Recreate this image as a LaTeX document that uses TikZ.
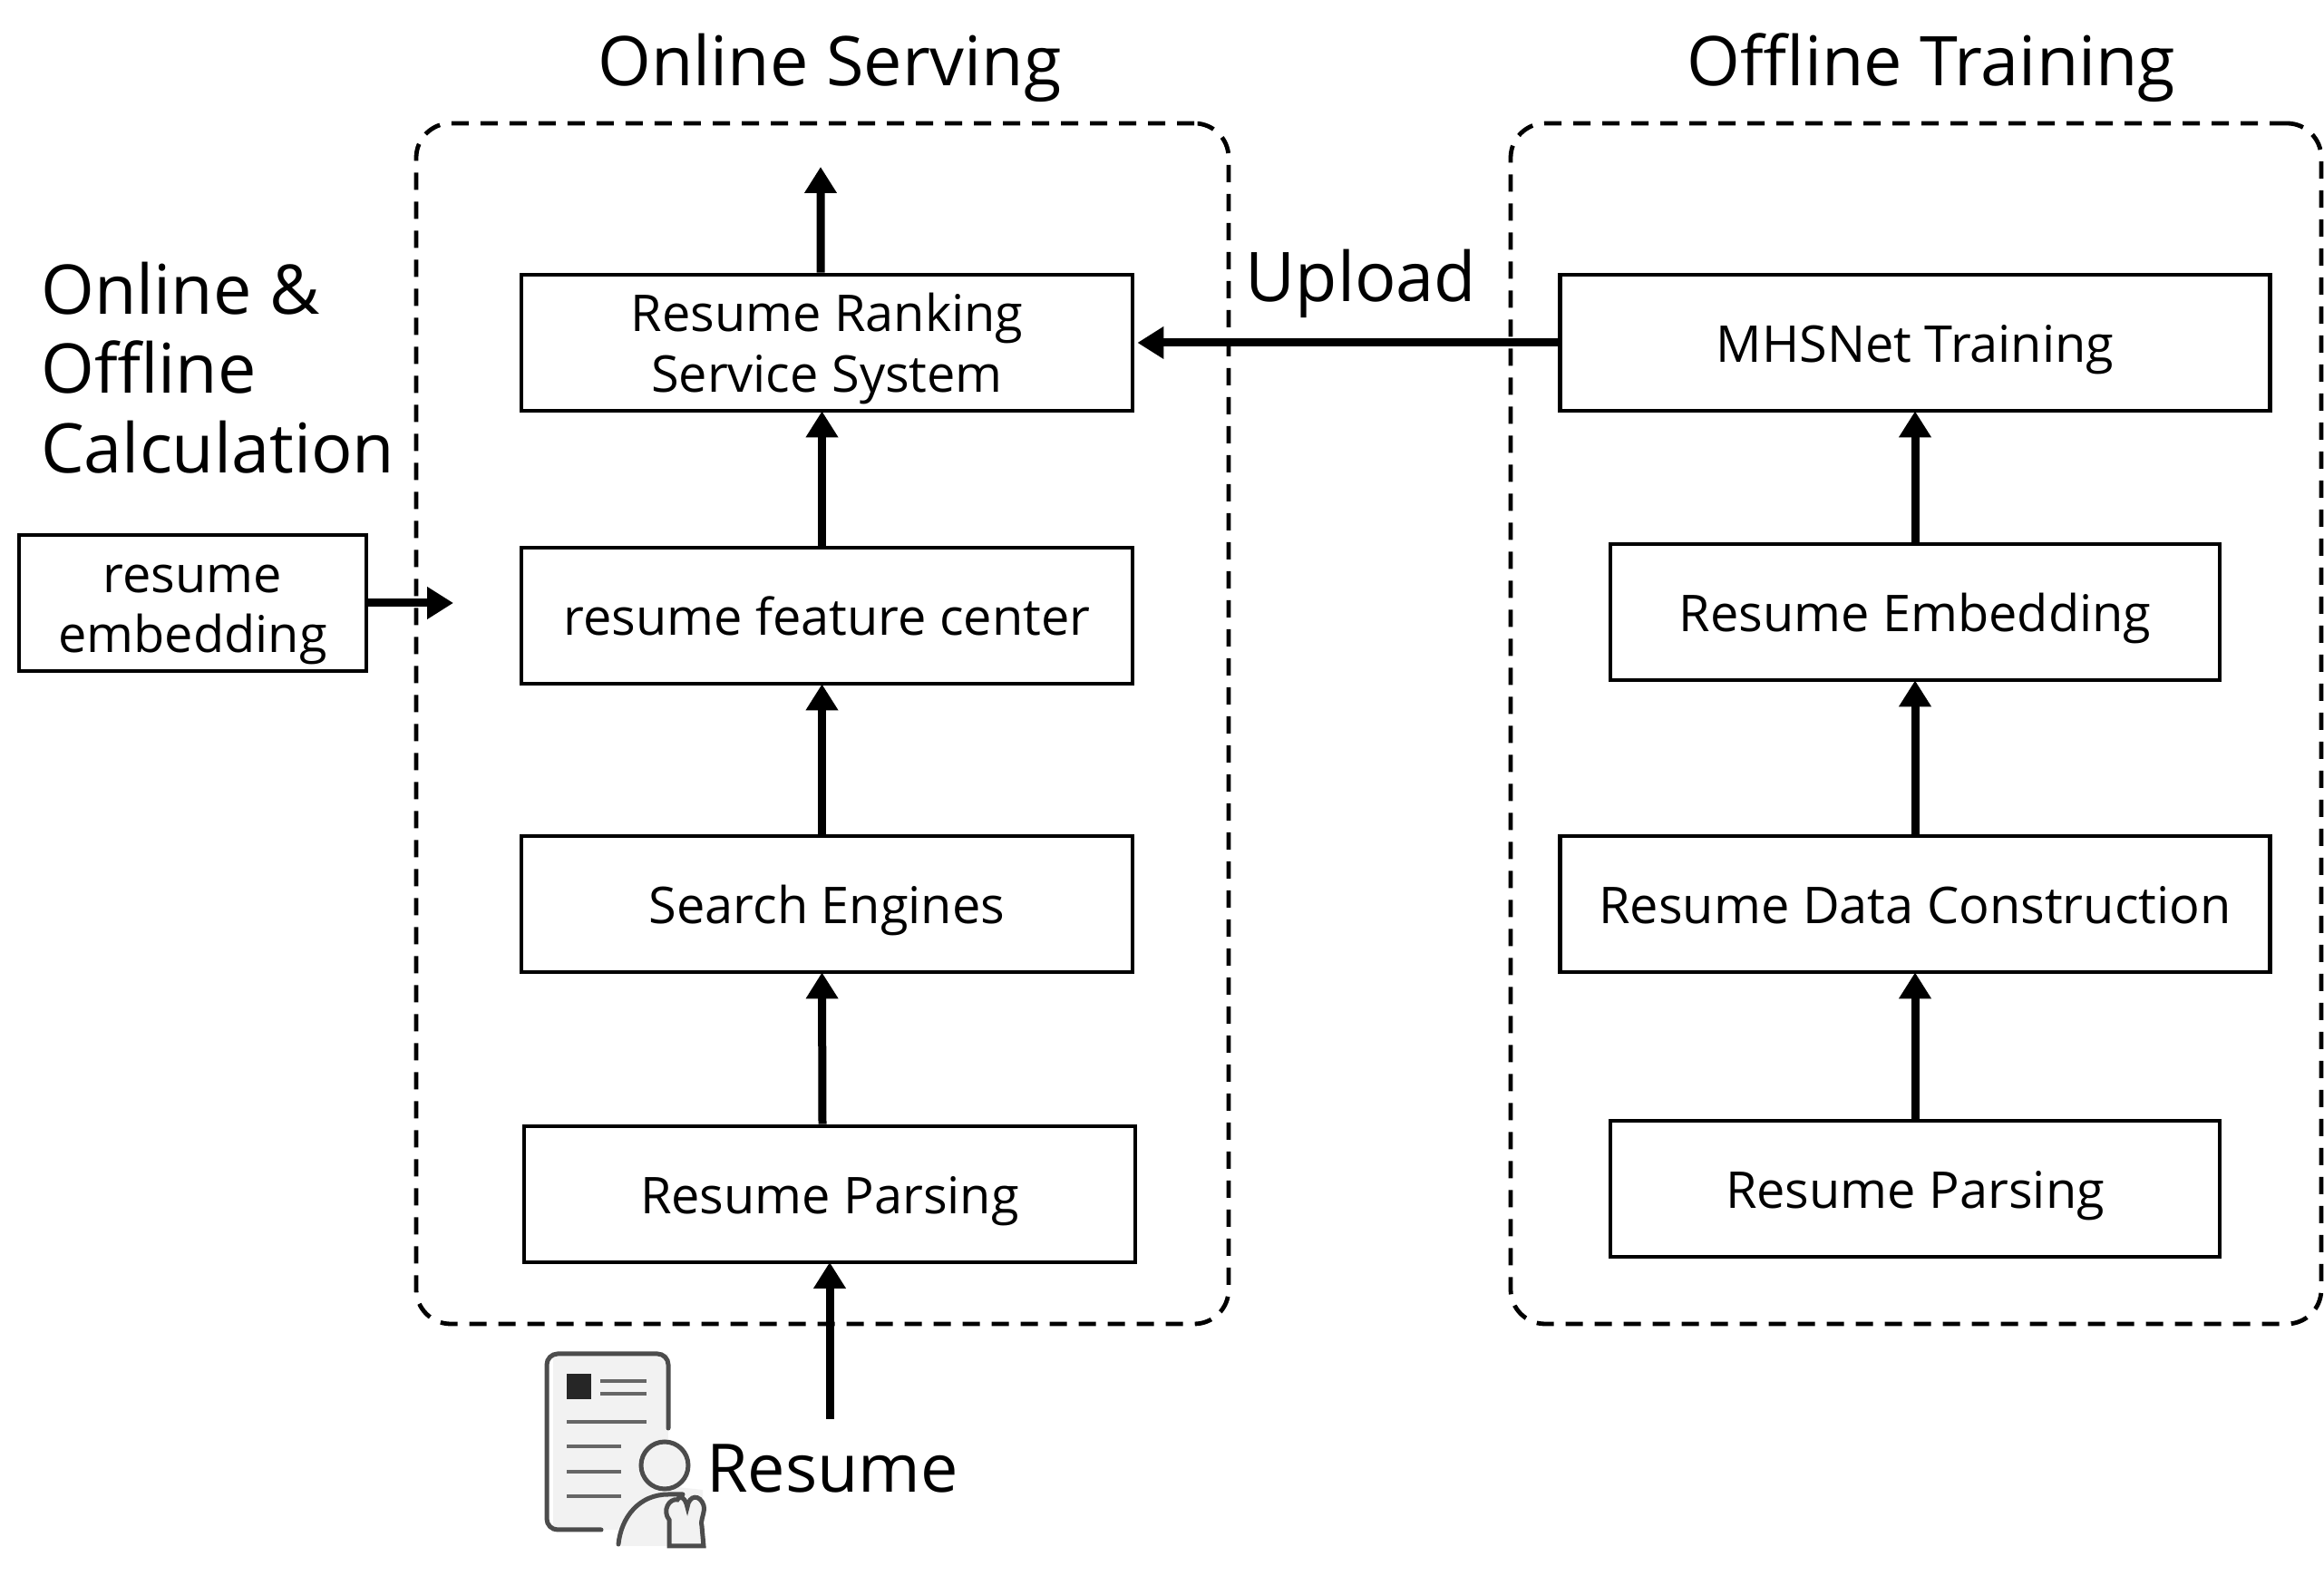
\documentclass[tikz,border=0pt]{standalone}
\usepackage{fontspec}
\setmainfont{Open Sans}
\usetikzlibrary{arrows.meta}

\begin{document}
\begin{tikzpicture}[
boxnode/.style={draw=black, line width=0.048cm, inner sep=0pt, align=center, font=\fontsize{15.9}{19}\selectfont},
linenode/.style={boxnode, execute at begin node={\rule{0pt}{1em}}, execute at end node={\rule[-0.24em]{0pt}{0pt}}},
twolines/.style={inner sep=0pt, align=center, font=\fontsize{15.9}{19}\selectfont},
dashnode/.style={draw=black, line width=0.048cm, rounded corners=0.38cm, dash pattern=on 0.19cm off 0.13cm, inner sep=0pt},
bigtext/.style={inner sep=0pt, font=\fontsize{21.5}{25}\selectfont},
flowline/.style={line width=0.09cm, shorten >=-0.02cm, -{Triangle[length=0.29cm, width=0.34cm]}},
iconline/.style={line width=0.05cm, draw=black!70, line cap=round},
iconthin/.style={line width=0.035cm, draw=black!60}
]
\useasboundingbox (0,0) rectangle (25.63,17.38);

\node [dashnode, minimum width=8.96cm, minimum height=13.24cm] (online) at (9.07,9.40) {};
\node [dashnode, minimum width=8.94cm, minimum height=13.24cm] (offline) at (21.13,9.40) {};

\node [bigtext] (t1) at (9.15,16.635) {Online Serving};
\node [bigtext] (t2) at (21.30,16.635) {Offline Training};
\node [bigtext] (t3) at (15.01,14.255) {Upload};
\node [bigtext, align=left, anchor=north west] (t4) at (0.445,14.50) {Online \&\\Offline\\Calculation};

    \node [boxnode, minimum width=6.74cm, minimum height=1.50cm] (a4) at (9.12,13.60) {};
    \node [twolines] (a4text) at (9.12,13.535) {Resume Ranking\\Service System};
    \node [linenode, minimum width=6.74cm, minimum height=1.50cm] (a3) at (9.12,10.59) {resume feature center};
    \node [linenode, minimum width=6.74cm, minimum height=1.50cm] (a2) at (9.12,7.41) {Search Engines};
    \node [linenode, minimum width=6.74cm, minimum height=1.50cm] (a1) at (9.15,4.21) {Resume Parsing};

    \node [linenode, minimum width=7.83cm, minimum height=1.50cm] (b4) at (21.12,13.60) {MHSNet Training};
    \node [linenode, minimum width=6.72cm, minimum height=1.50cm] (b3) at (21.12,10.63) {Resume Embedding};
    \node [linenode, minimum width=7.83cm, minimum height=1.50cm] (b2) at (21.12,7.41) {Resume Data Construction};
    \node [linenode, minimum width=6.72cm, minimum height=1.50cm] (b1) at (21.12,4.27) {Resume Parsing};

    \node [boxnode, minimum width=3.83cm, minimum height=1.50cm] (c1) at (2.125,10.73) {};
    \node [twolines] (c1text) at (2.125,10.60) {resume\\embedding};

    \node [bigtext, font=\fontsize{21}{25}\selectfont] (r1) at (9.18,1.185) {Resume};

    \coordinate (topout) at (9.05,15.52);
    \coordinate (embout) at (4.98,10.73);
    \coordinate (resumein) at (9.15,3.44);
    \coordinate (resumeout) at (9.15,1.73);

    \draw [flowline] (resumeout) -- (resumein);
    \draw [flowline] ([xshift=-0.08cm]a1.north) -- ([xshift=-0.055cm]a2.south);
    \draw [flowline] ([xshift=-0.055cm]a2.north) -- ([xshift=-0.055cm]a3.south);
    \draw [flowline] ([xshift=-0.055cm]a3.north) -- ([xshift=-0.055cm]a4.south);
    \draw [flowline] ([xshift=-0.07cm]a4.north) -- (topout);
    \draw [flowline] (b1.north) -- (b2.south);
    \draw [flowline] (b2.north) -- (b3.south);
    \draw [flowline] (b3.north) -- (b4.south);
    \draw [flowline, shorten >=0.03cm] (b4.west) -- (a4.east);
    \draw [flowline] (c1.east) -- (embout);

    % resume icon
    \fill [black!5] (6.10,0.51) rectangle (7.37,2.45);
    \fill [black!5] (6.85,0.33) -- (7.75,0.33) -- (7.75,0.95) -- (7.10,1.02) -- (6.85,0.70) -- cycle;
    \draw [iconline] (7.37,1.63) -- (7.37,2.33) arc (0:90:0.12) -- (6.15,2.45) arc (90:180:0.12) -- (6.03,0.63) arc (180:270:0.12) -- (6.63,0.51);
    \fill [black!85] (6.25,1.95) rectangle (6.52,2.23);
    \draw [iconthin] (6.62,2.15) -- (7.13,2.15);
    \draw [iconthin] (6.62,2.01) -- (7.13,2.01);
    \draw [iconthin] (6.25,1.70) -- (7.13,1.70);
    \draw [iconthin] (6.25,1.43) -- (6.85,1.43);
    \draw [iconthin] (6.25,1.15) -- (6.85,1.15);
    \draw [iconthin] (6.25,0.88) -- (6.85,0.88);
    \filldraw [iconline, fill=black!5] (7.33,1.22) circle (0.26);
    \draw [iconline] (6.82,0.35) .. controls (6.85,0.65) and (7.05,0.90) .. (7.37,0.90) -- (7.53,0.90);
    \filldraw [iconline, fill=black!5] (7.38,0.33) -- (7.38,0.62) .. controls (7.30,0.72) and (7.38,0.86) .. (7.47,0.84) .. controls (7.50,0.90) and (7.56,0.86) .. (7.58,0.76) .. controls (7.60,0.90) and (7.72,0.90) .. (7.76,0.78) .. controls (7.78,0.70) and (7.72,0.62) .. (7.74,0.55) -- (7.76,0.33) -- cycle;
    \end{tikzpicture}
\end{document}
